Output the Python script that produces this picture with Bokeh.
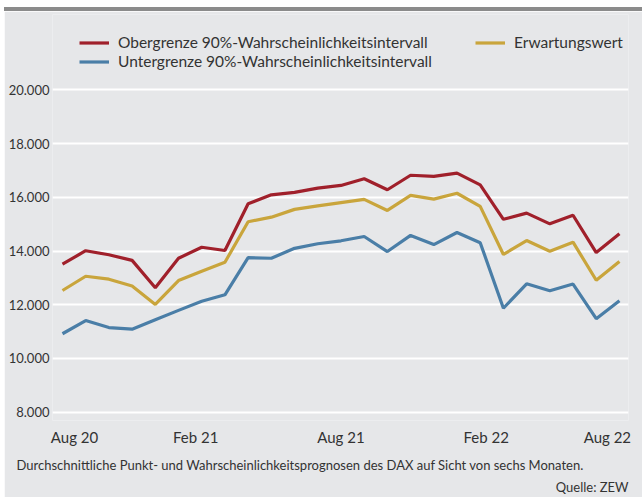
from bokeh.plotting import figure
from bokeh.models import Range1d, FixedTicker, Legend, LegendItem, Title, Div, Spacer
from bokeh.layouts import column, row
from bokeh.embed import file_html
from bokeh.resources import INLINE

months = ["Aug 20", "Sep 20", "Okt 20", "Nov 20", "Dez 20", "Jan 21", "Feb 21",
          "Mär 21", "Apr 21", "Mai 21", "Jun 21", "Jul 21", "Aug 21", "Sep 21",
          "Okt 21", "Nov 21", "Dez 21", "Jan 22", "Feb 22", "Mär 22", "Apr 22",
          "Mai 22", "Jun 22", "Jul 22", "Aug 22"]
obergrenze = [13510, 14010, 13860, 13650, 12630, 13730, 14140, 14020, 15760, 16090,
              16180, 16340, 16440, 16690, 16280, 16820, 16780, 16900, 16460, 15180,
              15410, 15010, 15330, 13940, 14640]
erwartungswert = [12530, 13060, 12950, 12700, 12010, 12900, 13250, 13580, 15090, 15260,
                  15550, 15680, 15800, 15920, 15510, 16070, 15930, 16150, 15660, 13870,
                  14390, 13990, 14330, 12910, 13610]
untergrenze = [10920, 11410, 11150, 11090, 11440, 11790, 12130, 12370, 13750, 13730,
               14100, 14270, 14380, 14540, 13980, 14580, 14240, 14690, 14310, 11870,
               12780, 12520, 12770, 11480, 12150]
x_tick_labels = ["Aug 20", "Feb 21", "Aug 21", "Feb 22", "Aug 22"]
y_ticks = [8000, 10000, 12000, 14000, 16000, 18000, 20000]
y_tick_labels = ["8.000", "10.000", "12.000", "14.000", "16.000", "18.000", "20.000"]

FONT = "Lato"
TXT = "#333333"
BG = "#e6e7e9"

xs = list(range(len(months)))
label_idx = [months.index(m) for m in x_tick_labels]
label_shift = [0.52, -0.26, 0.0, 0.26, -0.52]
x_ticks = [i + s for i, s in zip(label_idx, label_shift)]

p = figure(width=638, height=486, output_backend="svg", toolbar_location=None,
           x_range=Range1d(-0.43, 24.39), y_range=Range1d(7691, 22803),
           min_border_left=48, min_border_right=14, min_border_top=3, min_border_bottom=77)
p.background_fill_color = BG
p.border_fill_color = BG
p.outline_line_color = None

p.xgrid.grid_line_color = None
p.ygrid.grid_line_color = "white"
p.ygrid.grid_line_width = 2

p.yaxis.ticker = FixedTicker(ticks=y_ticks)
p.yaxis.major_label_overrides = dict(zip(y_ticks, y_tick_labels))
p.xaxis.ticker = FixedTicker(ticks=x_ticks)
p.xaxis.major_label_overrides = dict(zip(x_ticks, x_tick_labels))
for ax in (p.xaxis[0], p.yaxis[0]):
    ax.axis_line_color = None
    ax.major_tick_line_color = None
    ax.minor_tick_line_color = None
    ax.major_tick_out = 0
    ax.major_tick_in = 0
    ax.minor_tick_out = 0
    ax.minor_tick_in = 0
    ax.major_label_text_font = FONT
    ax.major_label_text_color = TXT
p.yaxis.major_label_text_font_size = "13px"
p.yaxis.major_label_standoff = 3
p.xaxis.major_label_text_font_size = "15px"
p.xaxis.major_label_standoff = 7

r_ober = p.line(xs, obergrenze, line_color="#a0202b", line_width=3.2)
r_unter = p.line(xs, untergrenze, line_color="#4a7ea7", line_width=3.2)
r_erw = p.line(xs, erwartungswert, line_color="#c9a53c", line_width=3.2)

def mk_legend(items, loc):
    lg = Legend(items=items, location=loc, orientation="vertical",
                background_fill_alpha=0, border_line_color=None,
                padding=0, margin=0, spacing=0, glyph_width=30, glyph_height=19,
                label_height=19, label_standoff=9, label_text_font=FONT,
                label_text_font_size="15.5px", label_text_color=TXT)
    return lg

lg1 = mk_legend([LegendItem(label="Obergrenze 90%-Wahrscheinlichkeitsintervall", renderers=[r_ober]),
                 LegendItem(label="Untergrenze 90%-Wahrscheinlichkeitsintervall", renderers=[r_unter])],
                (27, 349.5))
lg2 = mk_legend([LegendItem(label="Erwartungswert", renderers=[r_erw])], (423, 368.5))
p.add_layout(lg1)
p.add_layout(lg2)

foot = Title(text="Durchschnittliche Punkt- und Wahrscheinlichkeitsprognosen des DAX auf Sicht von sechs Monaten.",
             align="left", offset=-36, standoff=12, text_font=FONT, text_font_size="13px",
             text_font_style="normal", text_color=TXT)
src = Title(text="Quelle: ZEW", align="right", offset=0, standoff=-4, text_font=FONT,
            text_font_size="13px", text_font_style="normal", text_color=TXT)
p.add_layout(foot, "below")
p.add_layout(src, "below")

bar = Div(text="", width=638, height=4, margin=0, styles={"background-color": "#8b8b8b"})
inner = column(Spacer(width=638, height=7), bar, p, Spacer(width=638, height=3), spacing=0)
layout = row(Spacer(width=4, height=500), inner, spacing=0)

open("out.html", "w").write(file_html(layout, INLINE))
